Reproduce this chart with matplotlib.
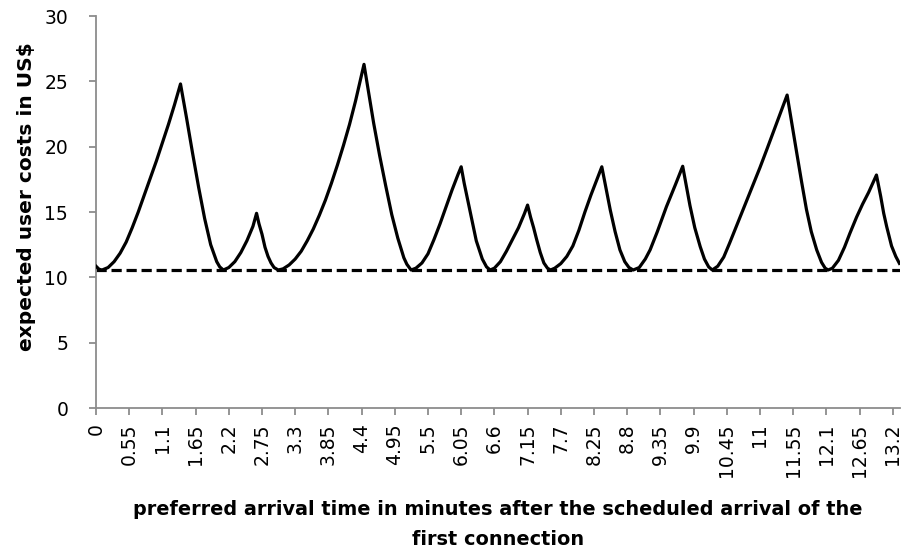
import matplotlib
matplotlib.use("Agg")
import matplotlib.pyplot as plt
import numpy as np

# preferred arrival time (minutes) and expected user costs (US$)
t = [0.0, 0.05, 0.1,
     0.2, 0.3, 0.4, 0.5, 0.6, 0.7, 0.8, 0.9, 1.0, 1.1, 1.2, 1.3, 1.4,
     1.5, 1.6, 1.7, 1.8, 1.9, 2.0, 2.05, 2.11,
     2.2, 2.3, 2.4, 2.5, 2.6, 2.66,
     2.7, 2.75, 2.8, 2.85, 2.9, 2.95, 3.02,
     3.1, 3.2, 3.3, 3.4, 3.5, 3.6, 3.7, 3.8, 3.9, 4.0, 4.1, 4.2, 4.3, 4.44,
     4.5, 4.6, 4.7, 4.8, 4.9, 5.0, 5.1, 5.15, 5.22,
     5.3, 5.4, 5.5, 5.6, 5.7, 5.8, 5.9, 6.0, 6.05,
     6.1, 6.2, 6.3, 6.4, 6.47, 6.53,
     6.6, 6.7, 6.8, 6.9, 7.0, 7.1, 7.15,
     7.2, 7.25, 7.3, 7.36, 7.42, 7.48, 7.53,
     7.6, 7.7, 7.8, 7.9, 8.0, 8.1, 8.2, 8.3, 8.38,
     8.45, 8.52, 8.6, 8.68, 8.76, 8.83, 8.90,
     9.0, 9.1, 9.18, 9.3, 9.45, 9.6, 9.72,
     9.78, 9.84, 9.92, 10.01, 10.08, 10.15, 10.21,
     10.3, 10.4, 10.5, 10.6, 10.7, 10.83, 11.0, 11.11, 11.3, 11.45,
     11.53, 11.61, 11.69, 11.77, 11.85, 11.94, 12.02, 12.08, 12.13,
     12.2, 12.3, 12.4, 12.49, 12.6, 12.7, 12.8, 12.93,
     13.0, 13.05, 13.1, 13.18, 13.25, 13.31]

costs = [10.85, 10.62, 10.56,
         10.75, 11.2, 11.85, 12.7, 13.8, 15.0, 16.3, 17.6, 18.9, 20.3, 21.7, 23.2, 24.8,
         22.2, 19.5, 16.9, 14.5, 12.5, 11.2, 10.8, 10.56,
         10.75, 11.2, 11.9, 12.8, 13.9, 14.9,
         14.1, 13.3, 12.3, 11.6, 11.1, 10.75, 10.56,
         10.65, 10.95, 11.4, 12.0, 12.8, 13.7, 14.75, 15.9, 17.2, 18.6, 20.1, 21.7, 23.5, 26.3,
         24.6, 21.8, 19.3, 17.0, 14.8, 13.0, 11.5, 11.0, 10.56,
         10.7, 11.1, 11.8, 12.9, 14.1, 15.4, 16.7, 17.9, 18.46,
         17.2, 15.0, 12.8, 11.4, 10.8, 10.56,
         10.7, 11.2, 12.0, 12.9, 13.8, 14.9, 15.53,
         14.6, 13.8, 12.9, 11.9, 11.1, 10.7, 10.56,
         10.7, 11.05, 11.6, 12.4, 13.6, 15.0, 16.3, 17.5, 18.46,
         16.8, 15.15, 13.5, 12.1, 11.2, 10.75, 10.56,
         10.75, 11.4, 12.1, 13.5, 15.4, 17.1, 18.5,
         17.0, 15.5, 13.8, 12.35, 11.4, 10.8, 10.56,
         10.85, 11.55, 12.65, 13.8, 14.95, 16.43, 18.4, 19.74, 22.1, 23.95,
         21.7, 19.5, 17.3, 15.2, 13.5, 12.1, 11.15, 10.7, 10.56,
         10.7, 11.3, 12.3, 13.37, 14.6, 15.6, 16.5, 17.83,
         16.2, 14.9, 13.87, 12.4, 11.6, 11.07]

minimum_cost = 10.55
x_ticks = [round(0.55 * i, 2) for i in range(25)]
x_tick_labels = ["0", "0.55", "1.1", "1.65", "2.2", "2.75", "3.3", "3.85", "4.4",
                 "4.95", "5.5", "6.05", "6.6", "7.15", "7.7", "8.25", "8.8", "9.35",
                 "9.9", "10.45", "11", "11.55", "12.1", "12.65", "13.2"]
y_ticks = [0, 5, 10, 15, 20, 25, 30]

plt.rcParams['font.family'] = ['DejaVu Sans']

fig = plt.figure(figsize=(9.04, 5.59), dpi=100)
ax = fig.add_axes([96 / 904, (559 - 408) / 559, (900 - 96) / 904, (408 - 16) / 559])

ax.plot(t, costs, color='black', lw=2.3, solid_joinstyle='round', zorder=3)
ax.plot([0, 13.32], [minimum_cost, minimum_cost], color='black', lw=2.3,
        linestyle=(0, (3.2, 1.5)), zorder=2)

ax.set_xlim(0, 13.32)
ax.set_ylim(0, 30)
ax.set_xticks(x_ticks)
ax.set_xticklabels(x_tick_labels, rotation=90, fontsize=13.5)
ax.set_yticks(y_ticks)
ax.set_yticklabels([str(v) for v in y_ticks], fontsize=13.5)

axis_gray = '#8c8c8c'
for side in ['top', 'right']:
    ax.spines[side].set_visible(False)
for side in ['left', 'bottom']:
    ax.spines[side].set_color(axis_gray)
    ax.spines[side].set_linewidth(1.3)
ax.tick_params(axis='both', colors=axis_gray, labelcolor='black', length=5, width=1.3,
               direction='out')
ax.tick_params(axis='x', pad=6)
ax.tick_params(axis='y', pad=15)

ax.set_ylabel('expected user costs in US$', fontsize=14.5, fontweight='bold')
ax.yaxis.set_label_coords(-0.075, 0.54)
ax.set_xlabel('preferred arrival time in minutes after the scheduled arrival of the\nfirst connection',
              fontsize=13.9, fontweight='bold', labelpad=17, linespacing=1.72)

fig.savefig('out.png', dpi=100)
